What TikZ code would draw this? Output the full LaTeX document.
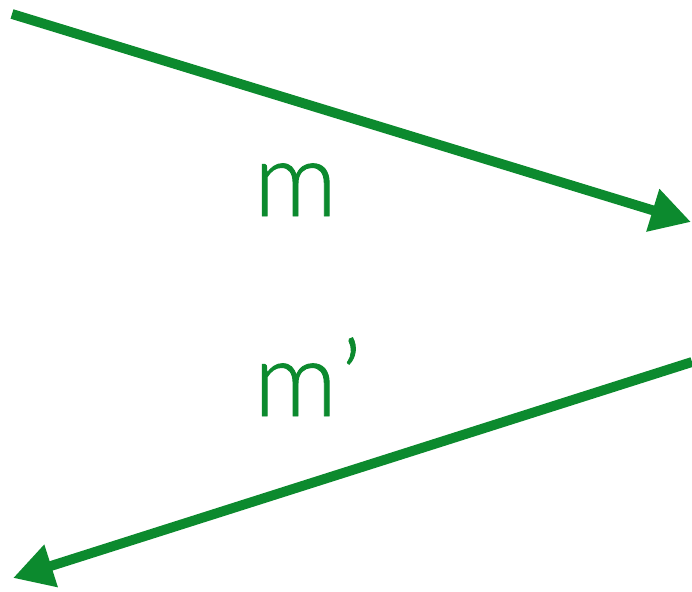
\documentclass[tikz,border=0pt]{standalone}
\usepackage{fontspec}
\setmainfont{Lato}
\newfontfamily\ligera[FakeBold=0.9]{Lato Light}
\usetikzlibrary{arrows.meta}
\definecolor{mgreen}{RGB}{12,138,46}
\begin{document}
\begin{tikzpicture}[
    flecha/.style={mgreen, line width=5.6pt, -{Triangle[length=0.8cm, width=0.84cm]}},
    etiqueta/.style={mgreen, anchor=base west, font=\ligera\fontsize{59}{70}\selectfont}
]
\useasboundingbox (0,0) rectangle (13.84,11.82);

% Extremos de las flechas
\coordinate (ida0) at (0.24,11.54);
\coordinate (ida1) at (13.82,7.38);
\coordinate (vuelta0) at (13.84,4.58);
\coordinate (vuelta1) at (0.26,0.26);

% Flechas
\draw[flecha] (ida0) -- (ida1);
\draw[flecha] (vuelta0) -- (vuelta1);

% Etiquetas
\node[etiqueta] (m) at (4.95,7.5) {m};
\node[etiqueta] (mp) at (4.95,3.5) {m\kern2pt’};

\end{tikzpicture}
\end{document}
